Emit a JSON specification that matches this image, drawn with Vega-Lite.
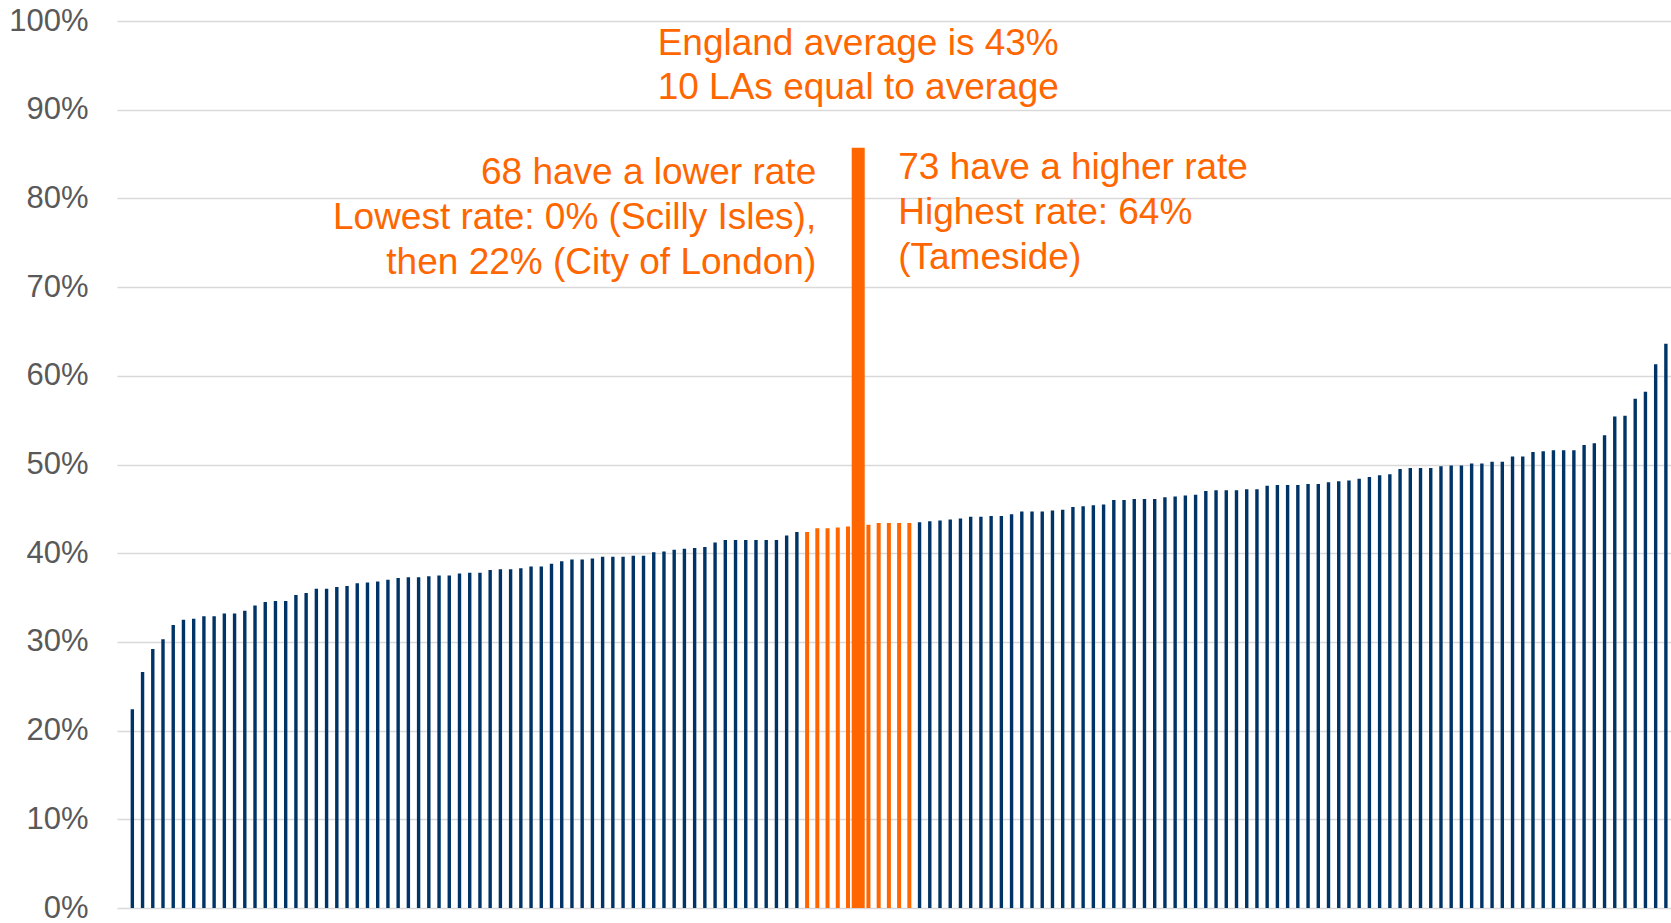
{
  "$schema": "https://vega.github.io/schema/vega-lite/v6.json",
  "autosize": {"type": "none"},
  "padding": {"left": 117, "top": 21, "right": 0, "bottom": 15},
  "width": 1554,
  "height": 887,
  "background": "white",
  "config": {
    "view": {"stroke": null},
    "font": "Liberation Sans"
  },
  "data": {
    "values": [
      {"idx": 0, "val": 0, "group": "other"},
      {"idx": 1, "val": 22.4, "group": "other"},
      {"idx": 2, "val": 26.6, "group": "other"},
      {"idx": 3, "val": 29.2, "group": "other"},
      {"idx": 4, "val": 30.3, "group": "other"},
      {"idx": 5, "val": 31.9, "group": "other"},
      {"idx": 6, "val": 32.5, "group": "other"},
      {"idx": 7, "val": 32.6, "group": "other"},
      {"idx": 8, "val": 32.9, "group": "other"},
      {"idx": 9, "val": 32.9, "group": "other"},
      {"idx": 10, "val": 33.2, "group": "other"},
      {"idx": 11, "val": 33.2, "group": "other"},
      {"idx": 12, "val": 33.5, "group": "other"},
      {"idx": 13, "val": 34.1, "group": "other"},
      {"idx": 14, "val": 34.5, "group": "other"},
      {"idx": 15, "val": 34.6, "group": "other"},
      {"idx": 16, "val": 34.6, "group": "other"},
      {"idx": 17, "val": 35.3, "group": "other"},
      {"idx": 18, "val": 35.5, "group": "other"},
      {"idx": 19, "val": 36.0, "group": "other"},
      {"idx": 20, "val": 36.0, "group": "other"},
      {"idx": 21, "val": 36.2, "group": "other"},
      {"idx": 22, "val": 36.3, "group": "other"},
      {"idx": 23, "val": 36.6, "group": "other"},
      {"idx": 24, "val": 36.7, "group": "other"},
      {"idx": 25, "val": 36.8, "group": "other"},
      {"idx": 26, "val": 37.0, "group": "other"},
      {"idx": 27, "val": 37.2, "group": "other"},
      {"idx": 28, "val": 37.3, "group": "other"},
      {"idx": 29, "val": 37.3, "group": "other"},
      {"idx": 30, "val": 37.4, "group": "other"},
      {"idx": 31, "val": 37.5, "group": "other"},
      {"idx": 32, "val": 37.5, "group": "other"},
      {"idx": 33, "val": 37.7, "group": "other"},
      {"idx": 34, "val": 37.8, "group": "other"},
      {"idx": 35, "val": 37.8, "group": "other"},
      {"idx": 36, "val": 38.1, "group": "other"},
      {"idx": 37, "val": 38.2, "group": "other"},
      {"idx": 38, "val": 38.2, "group": "other"},
      {"idx": 39, "val": 38.3, "group": "other"},
      {"idx": 40, "val": 38.5, "group": "other"},
      {"idx": 41, "val": 38.5, "group": "other"},
      {"idx": 42, "val": 38.8, "group": "other"},
      {"idx": 43, "val": 39.1, "group": "other"},
      {"idx": 44, "val": 39.3, "group": "other"},
      {"idx": 45, "val": 39.3, "group": "other"},
      {"idx": 46, "val": 39.4, "group": "other"},
      {"idx": 47, "val": 39.6, "group": "other"},
      {"idx": 48, "val": 39.6, "group": "other"},
      {"idx": 49, "val": 39.6, "group": "other"},
      {"idx": 50, "val": 39.7, "group": "other"},
      {"idx": 51, "val": 39.7, "group": "other"},
      {"idx": 52, "val": 40.1, "group": "other"},
      {"idx": 53, "val": 40.2, "group": "other"},
      {"idx": 54, "val": 40.4, "group": "other"},
      {"idx": 55, "val": 40.5, "group": "other"},
      {"idx": 56, "val": 40.6, "group": "other"},
      {"idx": 57, "val": 40.7, "group": "other"},
      {"idx": 58, "val": 41.2, "group": "other"},
      {"idx": 59, "val": 41.5, "group": "other"},
      {"idx": 60, "val": 41.5, "group": "other"},
      {"idx": 61, "val": 41.5, "group": "other"},
      {"idx": 62, "val": 41.5, "group": "other"},
      {"idx": 63, "val": 41.5, "group": "other"},
      {"idx": 64, "val": 41.5, "group": "other"},
      {"idx": 65, "val": 42.0, "group": "other"},
      {"idx": 66, "val": 42.4, "group": "other"},
      {"idx": 67, "val": 42.4, "group": "equal"},
      {"idx": 68, "val": 42.8, "group": "equal"},
      {"idx": 69, "val": 42.8, "group": "equal"},
      {"idx": 70, "val": 42.9, "group": "equal"},
      {"idx": 71, "val": 43.0, "group": "equal"},
      {"idx": 72, "val": 85.7, "group": "England"},
      {"idx": 73, "val": 43.2, "group": "equal"},
      {"idx": 74, "val": 43.4, "group": "equal"},
      {"idx": 75, "val": 43.4, "group": "equal"},
      {"idx": 76, "val": 43.4, "group": "equal"},
      {"idx": 77, "val": 43.4, "group": "equal"},
      {"idx": 78, "val": 43.5, "group": "other"},
      {"idx": 79, "val": 43.6, "group": "other"},
      {"idx": 80, "val": 43.7, "group": "other"},
      {"idx": 81, "val": 43.8, "group": "other"},
      {"idx": 82, "val": 43.9, "group": "other"},
      {"idx": 83, "val": 44.1, "group": "other"},
      {"idx": 84, "val": 44.1, "group": "other"},
      {"idx": 85, "val": 44.2, "group": "other"},
      {"idx": 86, "val": 44.2, "group": "other"},
      {"idx": 87, "val": 44.4, "group": "other"},
      {"idx": 88, "val": 44.7, "group": "other"},
      {"idx": 89, "val": 44.7, "group": "other"},
      {"idx": 90, "val": 44.7, "group": "other"},
      {"idx": 91, "val": 44.8, "group": "other"},
      {"idx": 92, "val": 44.9, "group": "other"},
      {"idx": 93, "val": 45.2, "group": "other"},
      {"idx": 94, "val": 45.3, "group": "other"},
      {"idx": 95, "val": 45.4, "group": "other"},
      {"idx": 96, "val": 45.5, "group": "other"},
      {"idx": 97, "val": 46.0, "group": "other"},
      {"idx": 98, "val": 46.0, "group": "other"},
      {"idx": 99, "val": 46.1, "group": "other"},
      {"idx": 100, "val": 46.1, "group": "other"},
      {"idx": 101, "val": 46.1, "group": "other"},
      {"idx": 102, "val": 46.3, "group": "other"},
      {"idx": 103, "val": 46.4, "group": "other"},
      {"idx": 104, "val": 46.5, "group": "other"},
      {"idx": 105, "val": 46.6, "group": "other"},
      {"idx": 106, "val": 47.0, "group": "other"},
      {"idx": 107, "val": 47.1, "group": "other"},
      {"idx": 108, "val": 47.1, "group": "other"},
      {"idx": 109, "val": 47.1, "group": "other"},
      {"idx": 110, "val": 47.2, "group": "other"},
      {"idx": 111, "val": 47.2, "group": "other"},
      {"idx": 112, "val": 47.6, "group": "other"},
      {"idx": 113, "val": 47.7, "group": "other"},
      {"idx": 114, "val": 47.7, "group": "other"},
      {"idx": 115, "val": 47.7, "group": "other"},
      {"idx": 116, "val": 47.8, "group": "other"},
      {"idx": 117, "val": 47.8, "group": "other"},
      {"idx": 118, "val": 48.0, "group": "other"},
      {"idx": 119, "val": 48.1, "group": "other"},
      {"idx": 120, "val": 48.2, "group": "other"},
      {"idx": 121, "val": 48.4, "group": "other"},
      {"idx": 122, "val": 48.6, "group": "other"},
      {"idx": 123, "val": 48.8, "group": "other"},
      {"idx": 124, "val": 48.9, "group": "other"},
      {"idx": 125, "val": 49.5, "group": "other"},
      {"idx": 126, "val": 49.6, "group": "other"},
      {"idx": 127, "val": 49.6, "group": "other"},
      {"idx": 128, "val": 49.6, "group": "other"},
      {"idx": 129, "val": 49.8, "group": "other"},
      {"idx": 130, "val": 49.9, "group": "other"},
      {"idx": 131, "val": 49.9, "group": "other"},
      {"idx": 132, "val": 50.1, "group": "other"},
      {"idx": 133, "val": 50.1, "group": "other"},
      {"idx": 134, "val": 50.3, "group": "other"},
      {"idx": 135, "val": 50.3, "group": "other"},
      {"idx": 136, "val": 50.9, "group": "other"},
      {"idx": 137, "val": 50.9, "group": "other"},
      {"idx": 138, "val": 51.4, "group": "other"},
      {"idx": 139, "val": 51.5, "group": "other"},
      {"idx": 140, "val": 51.6, "group": "other"},
      {"idx": 141, "val": 51.6, "group": "other"},
      {"idx": 142, "val": 51.6, "group": "other"},
      {"idx": 143, "val": 52.2, "group": "other"},
      {"idx": 144, "val": 52.4, "group": "other"},
      {"idx": 145, "val": 53.3, "group": "other"},
      {"idx": 146, "val": 55.4, "group": "other"},
      {"idx": 147, "val": 55.5, "group": "other"},
      {"idx": 148, "val": 57.4, "group": "other"},
      {"idx": 149, "val": 58.2, "group": "other"},
      {"idx": 150, "val": 61.3, "group": "other"},
      {"idx": 151, "val": 63.6, "group": "other"}
    ]
  },
  "encoding": {
    "x": {
      "field": "idx",
      "type": "ordinal",
      "axis": null,
      "scale": {"paddingInner": 0, "paddingOuter": 0}
    },
    "y": {
      "field": "val",
      "type": "quantitative",
      "scale": {"domain": [0, 100], "nice": false, "zero": true},
      "axis": {
        "values": [0, 10, 20, 30, 40, 50, 60, 70, 80, 90, 100],
        "labelExpr": "datum.value + '%'",
        "title": null,
        "domain": false,
        "ticks": false,
        "labelPadding": 29,
        "labelFontSize": 31,
        "labelFont": "Liberation Sans",
        "labelColor": "#595959",
        "grid": true,
        "gridColor": "#D9D9D9",
        "gridWidth": 1.5
      }
    }
  },
  "layer": [
    {
      "transform": [{"filter": "datum.group === 'other'"}],
      "mark": {"type": "bar", "size": 3.4, "color": "#003366"}
    },
    {
      "transform": [{"filter": "datum.group === 'equal'"}],
      "mark": {"type": "bar", "size": 4, "color": "#FF6600"}
    },
    {
      "transform": [{"filter": "datum.group === 'England'"}],
      "mark": {"type": "bar", "size": 13, "color": "#FF6600"}
    },
    {
      "transform": [{"filter": "datum.group === 'England'"}],
      "mark": {
        "type": "text",
        "text": ["England average is 43%", "10 LAs equal to average"],
        "align": "center",
        "baseline": "alphabetic",
        "lineHeight": 44,
        "font": "Liberation Sans",
        "fontSize": 37,
        "color": "#FF6600"
      },
      "encoding": {
        "y": {"datum": 96.2}
      }
    },
    {
      "transform": [{"filter": "datum.group === 'England'"}],
      "mark": {
        "type": "text",
        "text": ["68 have a lower rate", "Lowest rate: 0% (Scilly Isles),", "then 22% (City of London)"],
        "align": "right",
        "baseline": "alphabetic",
        "lineHeight": 44.7,
        "dx": -42,
        "font": "Liberation Sans",
        "fontSize": 37,
        "color": "#FF6600"
      },
      "encoding": {
        "y": {"datum": 81.6}
      }
    },
    {
      "transform": [{"filter": "datum.group === 'England'"}],
      "mark": {
        "type": "text",
        "text": ["73 have a higher rate", "Highest rate: 64%", "(Tameside)"],
        "align": "left",
        "baseline": "alphabetic",
        "lineHeight": 45,
        "dx": 40,
        "font": "Liberation Sans",
        "fontSize": 37,
        "color": "#FF6600"
      },
      "encoding": {
        "y": {"datum": 82.2}
      }
    }
  ]
}
